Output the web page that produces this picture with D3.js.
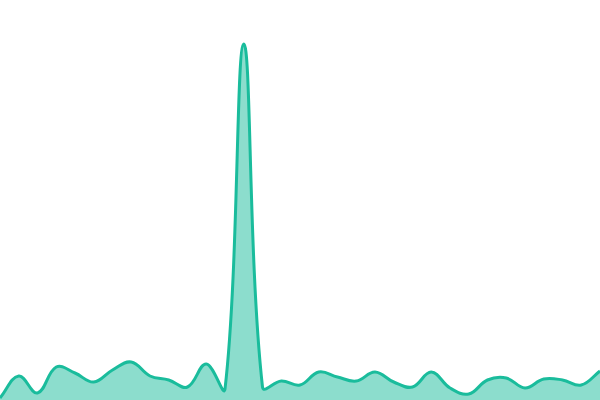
<!DOCTYPE html>
<html>
<head>
  <meta charset="UTF-8">
  <title>Area spike</title>
<style>
    body { margin: 0; background: white; }
    svg { display: block; }
</style>
</head>
<body>
<svg></svg>
<script src="https://d3js.org/d3.v7.min.js"></script>
<script>

let width = 600, height = 400;

// one value per step
const steps = d3.range(33);
const values = [2, 24, 7, 33, 27, 18, 30, 38, 24, 20, 13, 36, 11, 356, 13, 19,
                15, 28, 23, 19, 28, 18, 13, 28, 12, 6, 20, 22, 12, 21, 20, 15, 29];

// spline with control points weighted by the distance to each neighbour,
// so a lone spike keeps sharp feet instead of bulging out
function curveSpline(tension) {
    return function(context) {
        return {
            areaStart() { this._line = 0; },
            areaEnd() { this._line = NaN; },
            lineStart() { this._p = []; },
            point(x, y) { this._p.push([+x, +y]); },
            lineEnd() {
                let p = this._p, n = p.length;
                if (n) {
                    this._line ? context.lineTo(p[0][0], p[0][1]) : context.moveTo(p[0][0], p[0][1]);
                    let cps = p.map((cur, i) => {
                        let prev = p[i - 1] || cur, next = p[i + 1] || cur;
                        let d01 = Math.hypot(cur[0] - prev[0], cur[1] - prev[1]);
                        let d12 = Math.hypot(next[0] - cur[0], next[1] - cur[1]);
                        let s01 = d01 / (d01 + d12) || 0, s12 = d12 / (d01 + d12) || 0;
                        let fa = tension * s01, fb = tension * s12;
                        let dx = next[0] - prev[0], dy = next[1] - prev[1];
                        return {
                            inX: cur[0] - fa * dx, inY: cur[1] - fa * dy,
                            outX: cur[0] + fb * dx, outY: cur[1] + fb * dy
                        };
                    });
                    for (let i = 1; i < n; i++) {
                        context.bezierCurveTo(cps[i - 1].outX, cps[i - 1].outY,
                            cps[i].inX, cps[i].inY, p[i][0], p[i][1]);
                    }
                }
                if (this._line || (this._line !== 0 && n === 1)) context.closePath();
                this._line = 1 - this._line;
                this._p = null;
            }
        };
    };
}

let svg = d3.select("svg")
    .attr("width", width)
    .attr("height", height);

let x = d3.scaleLinear()
    .domain([0, steps.length - 1])
    .range([0, width]);

let y = d3.scaleLinear()
    .domain([0, 400])
    .range([height, 0]);

let data = steps.map((s, i) => ({ step: s, value: values[i] }));

let curve = curveSpline(0.4);

// filled area, half transparent
svg.append("path")
    .datum(data)
    .attr("fill", "#1abc9c")
    .attr("fill-opacity", 0.5)
    .attr("d", d3.area()
        .curve(curve)
        .x(d => x(d.step))
        .y0(y(0))
        .y1(d => y(d.value)));

// outline on top
svg.append("path")
    .datum(data)
    .attr("fill", "none")
    .attr("stroke", "#1abc9c")
    .attr("stroke-width", 3)
    .attr("d", d3.line()
        .curve(curve)
        .x(d => x(d.step))
        .y(d => y(d.value)));

</script>
</body>
</html>
